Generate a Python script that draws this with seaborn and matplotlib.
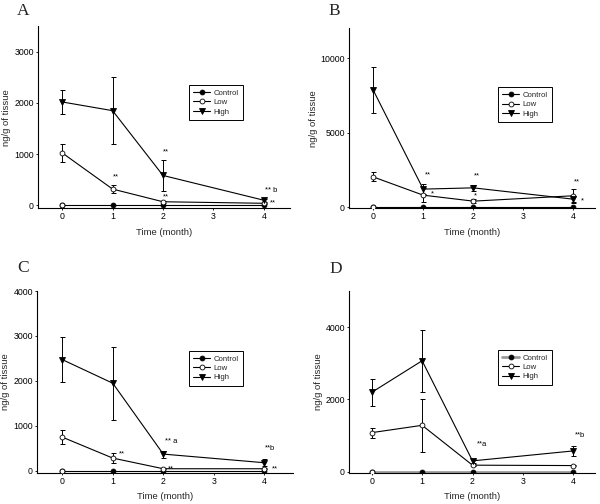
import matplotlib
matplotlib.use("Agg")
import matplotlib.pyplot as plt
import seaborn as sns

sns.set_theme(style="ticks")
plt.rcParams["font.family"] = ["Liberation Sans", "DejaVu Sans"]

months = [0, 1, 2, 4]
groups = ["Control", "Low", "High"]

# panel A
a_control = [0, 0, 0, 0]
a_low = [1025, 318, 70, 40]
a_low_sd = [180, 75, 20, 15]
a_high = [2020, 1850, 584, 100]
a_high_sd = [230, 660, 300, 30]

# panel B
b_control = [0, 0, 0, 0]
b_low = [2045, 820, 420, 780]
b_low_sd = [310, 450, 150, 480]
b_high = [7875, 1225, 1310, 550]
b_high_sd = [1560, 330, 200, 200]

# panel C
c_control = [0, 0, 0, 0]
c_low = [748, 281, 44, 44]
c_low_sd = [150, 105, 15, 15]
c_high = [2474, 1948, 370, 178]
c_high_sd = [500, 810, 80, 75]

# panel D
d_control = [0, 0, 0, 0]
d_low = [1078, 1281, 177, 166]
d_low_sd = [140, 730, 30, 20]
d_high = [2194, 3069, 296, 572]
d_high_sd = [380, 860, 60, 135]


def draw_panel(ax, control, low, low_sd, high, high_sd, xlim, ylim, yticks,
               notes, legend_xy, control_color="black", control_lw=0.8):
    for vals, sd in [(low, low_sd), (high, high_sd)]:
        ax.errorbar(months, vals, yerr=sd, fmt="none", ecolor="black",
                    elinewidth=0.7, capsize=1.8, capthick=0.7, zorder=1)
    sns.lineplot(x=months, y=control, ax=ax, color=control_color, lw=control_lw,
                 marker="o", ms=3.5, mfc="black", mec="black", mew=0.6,
                 label="Control", zorder=2)
    # first control point is drawn hollow in the original
    ax.plot(months[:1], control[:1], "o", ms=3.5, mfc="white", mec="black",
            mew=0.6, zorder=3)
    sns.lineplot(x=months, y=low, ax=ax, color="black", lw=0.8,
                 marker="o", ms=3.5, mfc="white", mec="black", mew=0.6,
                 label="Low", zorder=3)
    sns.lineplot(x=months, y=high, ax=ax, color="black", lw=0.8,
                 marker="v", ms=4.0, mfc="black", mec="black", mew=0.6,
                 label="High", zorder=3)

    ax.set_xlim(*xlim)
    ax.set_ylim(*ylim)
    ax.set_xticks([0, 1, 2, 3, 4])
    ax.set_yticks(yticks)
    ax.set_xlabel("Time (month)", fontsize=6.8, labelpad=4.5)
    ax.set_ylabel("ng/g of tissue", fontsize=6.8, labelpad=2)
    ax.tick_params(labelsize=6.3, length=1.5, width=0.6, pad=1.5, colors="black")
    for side in ["left", "bottom"]:
        ax.spines[side].set_linewidth(0.8)
        ax.spines[side].set_color("black")
    sns.despine(ax=ax)

    for txt, x, y in notes:
        ax.text(x, y, txt, fontsize=5.5, ha="left", va="center", color="black")

    leg = ax.legend(loc="upper left", bbox_to_anchor=legend_xy, fontsize=5.6,
                    frameon=True, fancybox=False, edgecolor="black",
                    framealpha=1, handlelength=2.2, handletextpad=0.4,
                    labelspacing=0.25, borderpad=0.55)
    leg.get_frame().set_linewidth(0.7)


fig = plt.figure(figsize=(6, 5.04), dpi=100)

ax_a = fig.add_axes([0.0633, 0.587, 0.42, 0.361])
draw_panel(ax_a, a_control, a_low, a_low_sd, a_high, a_high_sd,
           (-0.48, 4.52), (-55, 3500), [0, 1000, 2000, 3000],
           [("**", 1.01, 560), ("**", 2.0, 1035), ("**", 2.0, 156),
            ("** b", 4.02, 285), ("**", 4.13, 39)],
           (0.583, 0.698))

ax_b = fig.add_axes([0.5817, 0.587, 0.41, 0.357])
draw_panel(ax_b, b_control, b_low, b_low_sd, b_high, b_high_sd,
           (-0.48, 4.43), (-50, 12000), [0, 5000, 10000],
           [("**", 1.03, 2158), ("*", 1.15, 888), ("**", 2.01, 2110),
            ("*", 2.01, 755), ("**", 4.01, 1710), ("*", 4.15, 441)],
           (0.589, 0.694))

ax_c = fig.add_axes([0.0617, 0.0615, 0.4267, 0.361])
draw_panel(ax_c, c_control, c_low, c_low_sd, c_high, c_high_sd,
           (-0.5, 4.57), (-51, 4000), [0, 1000, 2000, 3000, 4000],
           [("**", 1.13, 371), ("** a", 2.03, 653), ("**", 2.1, 44),
            ("**b", 4.01, 489), ("**", 4.15, 31)],
           (0.578, 0.692))

ax_d = fig.add_axes([0.5817, 0.0615, 0.41, 0.361])
draw_panel(ax_d, d_control, d_low, d_low_sd, d_high, d_high_sd,
           (-0.45, 4.43), (-40, 5000), [0, 2000, 4000],
           [("**a", 2.08, 747), ("**b", 4.03, 1007)],
           (0.589, 0.698), control_color="#9a9a9a", control_lw=2.0)

for letter, px, py in [("A", 17, 15), ("B", 328, 15), ("C", 17, 272), ("D", 329, 273)]:
    fig.text(px / 600, 1 - py / 504, letter, fontsize=12.5,
             family=["Liberation Serif", "DejaVu Serif"], va="baseline", ha="left")

fig.savefig("out.png", dpi=100)
